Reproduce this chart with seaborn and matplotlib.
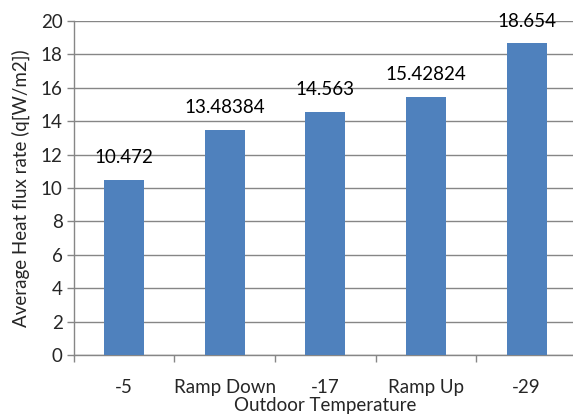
import matplotlib
matplotlib.use("Agg")
import matplotlib.pyplot as plt
import seaborn as sns
import pandas as pd
import numpy as np

categories = ["-5", "Ramp Down", "-17", "Ramp Up", "-29"]
heat_flux = [10.472, 13.48384, 14.563, 15.42824, 18.654]
y_ticks = [0, 2, 4, 6, 8, 10, 12, 14, 16, 18, 20]

sns.set_theme(style="white")
plt.rcParams["font.family"] = ["Lato", "DejaVu Sans"]

df = pd.DataFrame({"Outdoor Temperature": categories, "flux": heat_flux})

fig = plt.figure(figsize=(5.73, 4.17), dpi=100)
ax = fig.add_axes([73.7 / 573, 1 - 355 / 417, (577 - 73.7) / 573, (355 - 21) / 417])

sns.barplot(data=df, x="Outdoor Temperature", y="flux", color="#4F81BD",
            saturation=1, width=0.4, linewidth=0, ax=ax, zorder=3)

fs = 13.5
grid_c = "#868686"
ax.set_ylim(0, 20)
ax.set_xlim(-0.5, len(categories) - 0.5)
ax.set_yticks(y_ticks)
ax.yaxis.grid(True, color=grid_c, linewidth=1.0, zorder=0)
ax.set_axisbelow(True)
for s in ["top", "right"]:
    ax.spines[s].set_visible(False)
for s in ["left", "bottom"]:
    ax.spines[s].set_color(grid_c)
    ax.spines[s].set_linewidth(1.0)

ax.tick_params(axis="y", which="major", length=5, width=1.0, color=grid_c,
               labelsize=fs, pad=3, left=True)
# category labels sit between boundary tick marks
ax.set_xticks(np.arange(-0.5, len(categories)), minor=True)
ax.tick_params(axis="x", which="minor", length=5, width=1.0, color=grid_c, bottom=True)
ax.tick_params(axis="x", which="major", length=0, labelsize=fs, pad=17)

ax.set_xlabel("Outdoor Temperature", fontsize=fs, labelpad=1)
ax.set_ylabel("Average Heat flux rate (q[W/m2])", fontsize=fs, labelpad=8)

ax.bar_label(ax.containers[0], labels=[str(v) for v in heat_flux],
             padding=10, fontsize=fs, color="black")

fig.savefig("out.png", dpi=100)
